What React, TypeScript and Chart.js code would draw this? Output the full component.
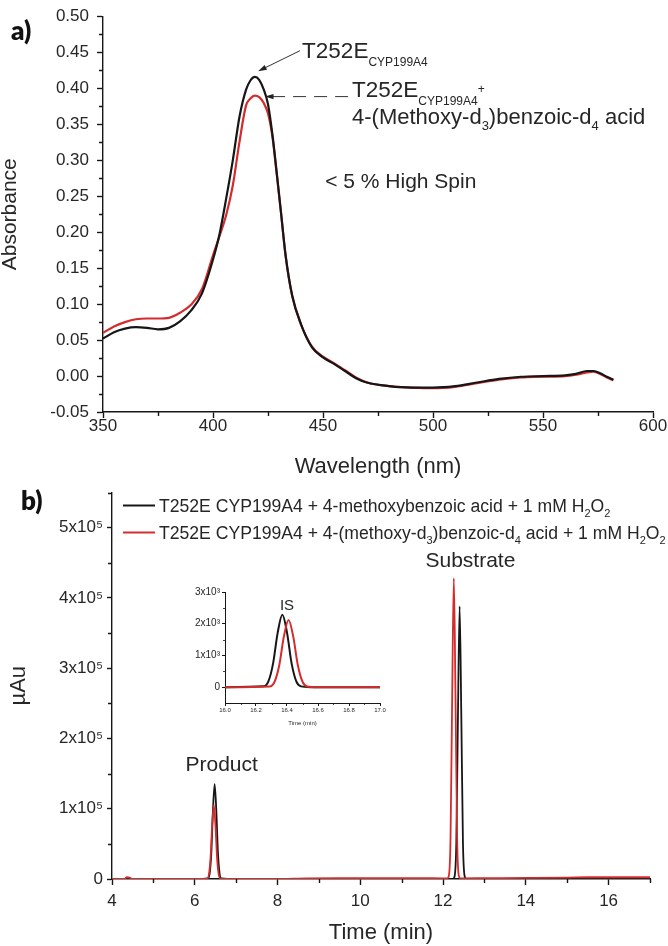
import React, { useEffect, useRef } from 'react';
import { Chart, registerables } from 'chart.js';

Chart.register(...registerables);

const FONT = '"Liberation Sans", Arial, Helvetica, sans-serif';
const BOLD_FONT = 'Lato, "Liberation Sans", Arial, sans-serif';
const INK = '#161616';
const TEXT = '#262626';
const RED = '#d42c2c';

// ---------- panel a : UV-vis spectra ----------
const wavelengths = [350, 355, 360, 365, 370, 375, 380, 385, 390, 395, 400, 403, 406, 409, 412, 415, 417, 419, 421, 423, 425, 427, 429, 431, 433, 436, 440, 445, 450, 455, 460, 465, 470, 480, 490, 500, 510, 520, 530, 540, 550, 560, 565, 570, 573, 576, 579, 582];
const absBlack = [0.052, 0.061, 0.066, 0.068, 0.067, 0.065, 0.067, 0.076, 0.091, 0.115, 0.162, 0.198, 0.247, 0.300, 0.360, 0.398, 0.411, 0.416, 0.412, 0.399, 0.378, 0.336, 0.282, 0.225, 0.168, 0.112, 0.072, 0.040, 0.026, 0.017, 0.007, -0.003, -0.009, -0.014, -0.016, -0.016, -0.014, -0.009, -0.004, -0.001, 0.000, 0.001, 0.003, 0.007, 0.007, 0.004, -0.001, -0.005];
const absRed = [0.060, 0.069, 0.075, 0.079, 0.080, 0.080, 0.081, 0.088, 0.099, 0.121, 0.168, 0.195, 0.224, 0.265, 0.325, 0.376, 0.386, 0.390, 0.388, 0.380, 0.365, 0.333, 0.280, 0.224, 0.167, 0.111, 0.072, 0.041, 0.027, 0.018, 0.008, -0.002, -0.009, -0.014, -0.016, -0.017, -0.015, -0.010, -0.005, -0.002, -0.001, 0.000, 0.002, 0.005, 0.006, 0.003, -0.002, -0.006];
const specXTicks = [350, 400, 450, 500, 550, 600];
const specXMinor = [375, 425, 475, 525, 575];
const specYTicks = [-0.05, 0, 0.05, 0.1, 0.15, 0.2, 0.25, 0.3, 0.35, 0.4, 0.45, 0.5];
const specYMinor = [-0.025, 0.025, 0.075, 0.125, 0.175, 0.225, 0.275, 0.325, 0.375, 0.425, 0.475];

// annotation anchors (data units: nm, absorbance)
const arrow1 = [439.5, 0.4524, 420.5, 0.4239];
const arrow2 = [461.4, 0.3886, 423.6, 0.3886];
const label1Pos = [440.5, 0.4425];
const label2Pos = [463.2, 0.388];
const label3Pos = [463.2, 0.351];
const spinPos = [451, 0.262];

// ---------- panel b : chromatograms ----------
const timeRed = [4.0, 4.30, 4.36, 4.42, 4.50, 5.0, 6.0, 6.30, 6.34, 6.38, 6.42, 6.46, 6.50, 6.54, 6.58, 6.62, 7.0, 8.0, 8.7, 9.5, 10.5, 11.5, 12.0, 12.10, 12.14, 12.18, 12.22, 12.26, 12.30, 12.34, 12.38, 12.42, 12.5, 13.0, 14.0, 15.0, 15.5, 16.0, 16.5, 17.0];
const uauRed = [0, 0, 2500, 2000, 0, 0, 0, 600, 5800, 29000, 76000, 105000, 76000, 29000, 5800, 600, 0, 0, 1000, 1200, 1200, 1200, 1000, 1000, 4700, 58000, 260000, 428000, 260000, 58000, 4700, 1000, 1000, 1200, 1500, 2000, 2500, 2500, 2500, 2500];
const timeBlack = [4.0, 5.0, 6.0, 6.32, 6.36, 6.40, 6.44, 6.48, 6.52, 6.56, 6.60, 6.64, 7.0, 9.0, 11.0, 12.0, 12.24, 12.28, 12.32, 12.36, 12.40, 12.44, 12.48, 12.52, 12.56, 13.0, 15.0, 17.0];
const uauBlack = [0, 0, 0, 800, 7600, 37500, 98000, 135000, 98000, 37500, 7600, 800, 0, 0, 0, 0, 300, 4300, 52000, 235000, 388000, 235000, 52000, 4300, 300, 0, 0, 0];
const chromXTicks = [4, 6, 8, 10, 12, 14, 16];
const chromXMinor = [5, 7, 9, 11, 13, 15, 17];
const chromYTicks = [0, 100000, 200000, 300000, 400000, 500000];
const chromYLabels = ['0', '1x10⁵', '2x10⁵', '3x10⁵', '4x10⁵', '5x10⁵'];
const chromYMinor = [50000, 150000, 250000, 350000, 450000, 550000];
const productPos = [6.65, 162000];
const substratePos = [12.66, 452000];

// ---------- inset : internal standard ----------
const insetTimeBlack = [16.0, 16.25, 16.28, 16.31, 16.34, 16.37, 16.40, 16.43, 16.46, 16.49, 16.55, 17.0];
const insetBlack = [0, 25, 180, 740, 1720, 2280, 1720, 740, 180, 25, 0, 0];
const insetTimeRed = [16.0, 16.29, 16.32, 16.35, 16.38, 16.41, 16.44, 16.47, 16.50, 16.53, 16.6, 17.0];
const insetRed = [0, 23, 170, 690, 1600, 2120, 1600, 690, 170, 23, 0, 0];
const insetXTicks = [16.0, 16.2, 16.4, 16.6, 16.8, 17.0];
const insetXMinor = [16.1, 16.3, 16.5, 16.7, 16.9];
const insetYTicks = [0, 1000, 2000, 3000];
const insetYLabels = ['0', '1x10³', '2x10³', '3x10³'];
const insetYMinor = [500, 1500, 2500];
const isPos = [16.4, 2560];

type Seg = { t: string; s?: 'sub' | 'sup' };
const legendBlack: Seg[] = [{ t: 'T252E CYP199A4 + 4-methoxybenzoic acid + 1 mM H' }, { t: '2', s: 'sub' }, { t: 'O' }, { t: '2', s: 'sub' }];
const legendRed: Seg[] = [{ t: 'T252E CYP199A4 + 4-(methoxy-d' }, { t: '3', s: 'sub' }, { t: ')benzoic-d' }, { t: '4', s: 'sub' }, { t: ' acid + 1 mM H' }, { t: '2', s: 'sub' }, { t: 'O' }, { t: '2', s: 'sub' }];
const label1: Seg[] = [{ t: 'T252E' }, { t: 'CYP199A4', s: 'sub' }];
const label2: Seg[] = [{ t: 'T252E' }, { t: 'CYP199A4', s: 'sub' }, { t: '+', s: 'sup' }];
const label3: Seg[] = [{ t: '4-(Methoxy-d' }, { t: '3', s: 'sub' }, { t: ')benzoic-d' }, { t: '4', s: 'sub' }, { t: ' acid' }];

function drawRich(ctx: CanvasRenderingContext2D, segs: Seg[], x: number, y: number, size: number, color: string, subSize: number, subDy: number, supDy: number) {
  ctx.fillStyle = color;
  ctx.textBaseline = 'alphabetic';
  ctx.textAlign = 'left';
  let cx = x;
  for (const g of segs) {
    const fs = g.s ? subSize : size;
    ctx.font = `${fs}px ${FONT}`;
    const dy = g.s === 'sub' ? subDy : g.s === 'sup' ? supDy : 0;
    ctx.fillText(g.t, cx, y + dy);
    cx += ctx.measureText(g.t).width;
  }
  return cx;
}

function drawMinor(ctx: CanvasRenderingContext2D, chart: any, xs: number[], ys: number[], len: number, lw: number) {
  const { chartArea, scales } = chart;
  ctx.save();
  ctx.strokeStyle = INK;
  ctx.lineWidth = lw;
  ctx.beginPath();
  for (const v of xs) {
    const p = Math.round(scales.x.getPixelForValue(v)) + 0.5;
    ctx.moveTo(p, chartArea.bottom);
    ctx.lineTo(p, chartArea.bottom + len);
  }
  for (const v of ys) {
    const p = Math.round(scales.y.getPixelForValue(v)) + 0.5;
    ctx.moveTo(chartArea.left, p);
    ctx.lineTo(chartArea.left - len, p);
  }
  ctx.stroke();
  ctx.restore();
}

function drawArrow(ctx: CanvasRenderingContext2D, x1: number, y1: number, x2: number, y2: number, dash: number[]) {
  const ang = Math.atan2(y2 - y1, x2 - x1);
  const head = 9;
  ctx.save();
  ctx.strokeStyle = '#333';
  ctx.fillStyle = '#222';
  ctx.lineWidth = 1;
  ctx.setLineDash(dash);
  ctx.beginPath();
  ctx.moveTo(x1, y1);
  ctx.lineTo(x2 - Math.cos(ang) * head * 0.8, y2 - Math.sin(ang) * head * 0.8);
  ctx.stroke();
  ctx.setLineDash([]);
  ctx.beginPath();
  ctx.moveTo(x2, y2);
  ctx.lineTo(x2 - head * Math.cos(ang - 0.3), y2 - head * Math.sin(ang - 0.3));
  ctx.lineTo(x2 - head * Math.cos(ang + 0.3), y2 - head * Math.sin(ang + 0.3));
  ctx.closePath();
  ctx.fill();
  ctx.restore();
}

function axis(size: number, tickLen: number, pad: number, lw: number) {
  return {
    grid: { drawOnChartArea: false, drawTicks: true, tickLength: tickLen, tickColor: INK, tickWidth: lw },
    border: { display: true, color: INK, width: lw },
    ticks: { color: TEXT, font: { family: FONT, size, lineHeight: 1 }, autoSkip: false, maxRotation: 0, minRotation: 0, padding: pad },
  };
}

const panelAPlugin = {
  id: 'panelADecor',
  afterDraw(chart: any) {
    const ctx: CanvasRenderingContext2D = chart.ctx;
    const x = chart.scales.x, y = chart.scales.y;
    const px = (v: number) => x.getPixelForValue(v);
    const py = (v: number) => y.getPixelForValue(v);
    drawMinor(ctx, chart, specXMinor, specYMinor, 4, 1.4);
    ctx.save();
    ctx.font = `800 26px ${BOLD_FONT}`;
    ctx.fillStyle = '#111';
    ctx.textBaseline = 'alphabetic';
    ctx.fillText('a)', 11, 40);
    drawArrow(ctx, px(arrow1[0]), py(arrow1[1]), px(arrow1[2]), py(arrow1[3]), []);
    drawArrow(ctx, px(arrow2[0]), py(arrow2[1]), px(arrow2[2]), py(arrow2[3]), [13, 8]);
    drawRich(ctx, label1, px(label1Pos[0]), py(label1Pos[1]), 22.5, TEXT, 12, 8, -4);
    drawRich(ctx, label2, px(label2Pos[0]), py(label2Pos[1]), 22.5, TEXT, 12, 8, -4);
    drawRich(ctx, label3, px(label3Pos[0]), py(label3Pos[1]), 22, TEXT, 13, 6, -8);
    ctx.font = `21px ${FONT}`;
    ctx.fillStyle = TEXT;
    ctx.fillText('< 5 % High Spin', px(spinPos[0]), py(spinPos[1]));
    ctx.restore();
  },
};

const panelBPlugin = {
  id: 'panelBDecor',
  afterDraw(chart: any) {
    const ctx: CanvasRenderingContext2D = chart.ctx;
    const x = chart.scales.x, y = chart.scales.y;
    const ca = chart.chartArea;
    drawMinor(ctx, chart, chromXMinor, chromYMinor, 4, 1.4);
    ctx.save();
    ctx.font = `800 26px ${BOLD_FONT}`;
    ctx.fillStyle = '#111';
    ctx.textBaseline = 'alphabetic';
    ctx.fillText('b)', 21, 30);
    const rows: [string, Seg[]][] = [[INK, legendBlack], [RED, legendRed]];
    rows.forEach(([col, segs], i) => {
      const yy = ca.top + 13 + i * 27;
      ctx.strokeStyle = col;
      ctx.lineWidth = 2;
      ctx.beginPath();
      ctx.moveTo(ca.left + 11, yy);
      ctx.lineTo(ca.left + 43, yy);
      ctx.stroke();
      drawRich(ctx, segs, ca.left + 47, yy + 6.2, 17.6, TEXT, 11, 5, -7);
    });
    ctx.font = `21px ${FONT}`;
    ctx.fillStyle = TEXT;
    ctx.textAlign = 'center';
    ctx.textBaseline = 'middle';
    ctx.fillText('Product', x.getPixelForValue(productPos[0]), y.getPixelForValue(productPos[1]));
    ctx.fillText('Substrate', x.getPixelForValue(substratePos[0]), y.getPixelForValue(substratePos[1]));
    ctx.restore();
  },
};

const insetPlugin = {
  id: 'insetDecor',
  afterDraw(chart: any) {
    const ctx: CanvasRenderingContext2D = chart.ctx;
    drawMinor(ctx, chart, insetXMinor, insetYMinor, 2, 0.8);
    ctx.save();
    ctx.font = `15px ${FONT}`;
    ctx.fillStyle = TEXT;
    ctx.textAlign = 'center';
    ctx.textBaseline = 'middle';
    ctx.fillText('IS', chart.scales.x.getPixelForValue(isPos[0]), chart.scales.y.getPixelForValue(isPos[1]));
    ctx.restore();
  },
};

function xy(xs: number[], ys: number[]) {
  return xs.map((v, i) => ({ x: v, y: ys[i] }));
}

export default function App() {
  const aRef = useRef<HTMLCanvasElement>(null);
  const bRef = useRef<HTMLCanvasElement>(null);
  const cRef = useRef<HTMLCanvasElement>(null);

  useEffect(() => {
    const charts: Chart[] = [];
    const ax = axis(17, 6, 0, 1.4);
    const ay = axis(17, 6, 8, 1.4);
    charts.push(new Chart(aRef.current!, {
      type: 'line',
      data: {
        datasets: [
          { label: 'T252E', data: xy(wavelengths, absBlack), borderColor: INK, borderWidth: 2.2, pointRadius: 0, cubicInterpolationMode: 'monotone' },
          { label: 'T252E + substrate', data: xy(wavelengths, absRed), borderColor: RED, borderWidth: 2.2, pointRadius: 0, cubicInterpolationMode: 'monotone' },
        ],
      },
      options: {
        animation: false,
        responsive: false,
        events: [],
        layout: { padding: { top: 7, right: 15, left: 0, bottom: 0 } },
        plugins: { legend: { display: false }, tooltip: { enabled: false } },
        scales: {
          x: {
            type: 'linear', min: 350, max: 600,
            ...ax,
            afterBuildTicks: (s: any) => { s.ticks = specXTicks.map(v => ({ value: v })); },
            afterFit: (s: any) => { s.height = 68; },
            ticks: { ...ax.ticks, callback: (v: any) => String(v) },
            title: { display: true, text: 'Wavelength (nm)', color: TEXT, font: { family: FONT, size: 22, lineHeight: 1.2 }, padding: { top: 0, bottom: 0 } },
          },
          y: {
            type: 'linear', min: -0.05, max: 0.5,
            ...ay,
            afterBuildTicks: (s: any) => { s.ticks = specYTicks.map(v => ({ value: v })); },
            afterFit: (s: any) => { s.width = 103; },
            ticks: { ...ay.ticks, callback: (v: any) => Number(v).toFixed(2) },
            title: { display: true, text: 'Absorbance', color: TEXT, font: { family: FONT, size: 21, lineHeight: 1 }, padding: { top: 0, bottom: 0 } },
          },
        },
      } as any,
      plugins: [panelAPlugin],
    }));

    const bx = axis(17, 6, 8, 1.4);
    const by = axis(17, 5, 4, 1.4);
    charts.push(new Chart(bRef.current!, {
      type: 'line',
      data: {
        datasets: [
          { label: 'd-labelled', data: xy(timeRed, uauRed), borderColor: RED, borderWidth: 1.8, pointRadius: 0, cubicInterpolationMode: 'monotone' },
          { label: 'unlabelled', data: xy(timeBlack, uauBlack), borderColor: INK, borderWidth: 1.8, pointRadius: 0, cubicInterpolationMode: 'monotone' },
        ],
      },
      options: {
        animation: false,
        responsive: false,
        events: [],
        layout: { padding: { top: 2, right: 18, left: 0, bottom: 0 } },
        plugins: { legend: { display: false }, tooltip: { enabled: false } },
        scales: {
          x: {
            type: 'linear', min: 4, max: 17,
            ...bx,
            afterBuildTicks: (s: any) => { s.ticks = chromXTicks.map(v => ({ value: v })); },
            afterFit: (s: any) => { s.height = 67; },
            ticks: { ...bx.ticks, callback: (v: any) => String(v) },
            title: { display: true, text: 'Time (min)', color: TEXT, font: { family: FONT, size: 22, lineHeight: 1 }, padding: { top: 0, bottom: 2 } },
          },
          y: {
            type: 'linear', min: 0, max: 550000,
            ...by,
            afterBuildTicks: (s: any) => { s.ticks = chromYTicks.map(v => ({ value: v })); },
            afterFit: (s: any) => { s.width = 112; },
            ticks: { ...by.ticks, callback: (_v: any, i: number) => chromYLabels[i] },
            title: { display: true, text: 'µAu', color: TEXT, font: { family: FONT, size: 22, lineHeight: 1 }, padding: { top: 8, bottom: 0 } },
          },
        },
      } as any,
      plugins: [panelBPlugin],
    }));

    const ix = axis(6, 3, 1, 1);
    const iy = axis(10, 3, 2, 1);
    charts.push(new Chart(cRef.current!, {
      type: 'line',
      data: {
        datasets: [
          { label: 'IS d', data: xy(insetTimeRed, insetRed), borderColor: RED, borderWidth: 2, pointRadius: 0, cubicInterpolationMode: 'monotone' },
          { label: 'IS', data: xy(insetTimeBlack, insetBlack), borderColor: INK, borderWidth: 2, pointRadius: 0, cubicInterpolationMode: 'monotone' },
        ],
      },
      options: {
        animation: false,
        responsive: false,
        events: [],
        layout: { padding: { top: 7, right: 10, left: 0, bottom: 0 } },
        plugins: { legend: { display: false }, tooltip: { enabled: false } },
        scales: {
          x: {
            type: 'linear', min: 16, max: 17,
            ...ix,
            afterBuildTicks: (s: any) => { s.ticks = insetXTicks.map(v => ({ value: v })); },
            afterFit: (s: any) => { s.height = 32; },
            ticks: { ...ix.ticks, callback: (v: any) => Number(v).toFixed(1) },
            title: { display: true, text: 'Time (min)', color: TEXT, font: { family: FONT, size: 6, lineHeight: 1 }, padding: { top: 0, bottom: 9 } },
          },
          y: {
            type: 'linear', min: -500, max: 3000,
            ...iy,
            afterBuildTicks: (s: any) => { s.ticks = insetYTicks.map(v => ({ value: v })); },
            afterFit: (s: any) => { s.width = 45; },
            ticks: { ...iy.ticks, callback: (_v: any, i: number) => insetYLabels[i] },
          },
        },
      } as any,
      plugins: [insetPlugin],
    }));

    return () => charts.forEach(c => c.destroy());
  }, []);

  return (
    <div style={{ position: 'absolute', left: 0, top: 0, width: 668, height: 946, background: '#ffffff' }}>
      <canvas ref={aRef} width={668} height={480} style={{ position: 'absolute', left: 0, top: 0 }} />
      <canvas ref={bRef} width={668} height={466} style={{ position: 'absolute', left: 0, top: 480 }} />
      <canvas ref={cRef} width={210} height={150} style={{ position: 'absolute', left: 180, top: 585 }} />
    </div>
  );
}
